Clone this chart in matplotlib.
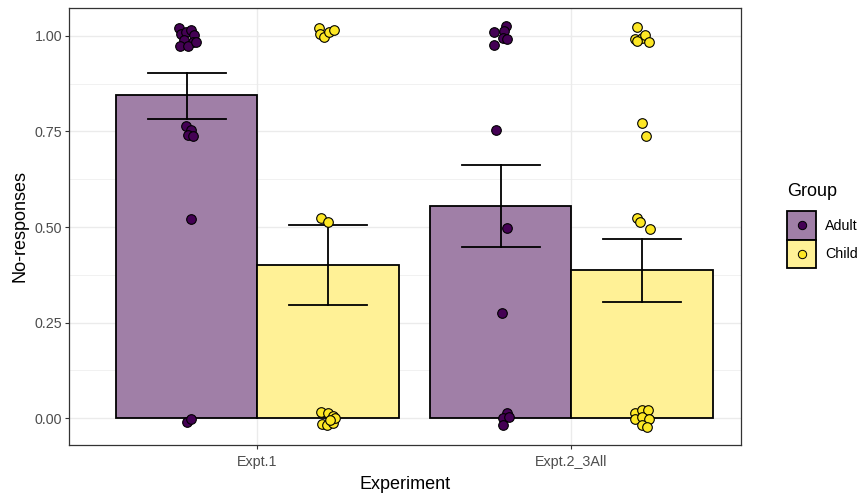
import numpy as np
import matplotlib
matplotlib.use('Agg')
import matplotlib.pyplot as plt
from matplotlib.patches import Rectangle
from matplotlib.lines import Line2D

plt.rcParams['font.family'] = ['Liberation Sans', 'DejaVu Sans']

# data
experiments = ['Expt.1', 'Expt.2_3All']
groups = ['Adult', 'Child']
means = {'Adult': [0.845, 0.556], 'Child': [0.400, 0.387]}
err_lo = {'Adult': [0.783, 0.447], 'Child': [0.295, 0.305]}
err_hi = {'Adult': [0.904, 0.663], 'Child': [0.506, 0.468]}

# individual points: (jitter offset, value) per experiment
adult_e1 = [(-0.025, 1.021), (-0.019, 1.005), (-0.003, 1.010), (0.013, 1.016), (0.022, 1.003),
            (-0.010, 0.990), (0.019, 0.984), (-0.022, 0.974), (0.003, 0.974), (0.029, 0.984),
            (-0.003, 0.764), (0.013, 0.754), (0.003, 0.741), (0.019, 0.738),
            (0.013, 0.521), (0.000, -0.010), (0.013, -0.003)]
child_e1 = [(-0.029, 1.021), (-0.025, 1.005), (-0.013, 0.997), (0.003, 1.010), (0.019, 1.016),
            (-0.022, 0.524), (0.000, 0.513),
            (-0.022, 0.016), (0.000, 0.013), (0.016, 0.005), (-0.019, -0.016),
            (-0.003, -0.018), (0.016, -0.013), (0.022, 0.000), (0.006, -0.005)]
adult_e2 = [(-0.022, 1.010), (0.016, 1.026), (0.010, 1.013), (-0.022, 0.977), (0.006, 0.995),
            (0.019, 0.992), (-0.016, 0.754), (0.019, 0.497), (0.003, 0.275),
            (0.019, 0.013), (0.006, 0.000), (0.025, 0.003), (0.006, -0.018)]
child_e2 = [(-0.016, 1.024), (-0.022, 0.992), (0.000, 0.995), (0.010, 1.003), (-0.016, 0.987),
            (0.022, 0.984), (0.000, 0.772), (0.013, 0.738),
            (-0.016, 0.524), (-0.006, 0.513), (0.025, 0.495),
            (-0.022, 0.013), (0.000, 0.021), (0.019, 0.021), (-0.022, -0.003),
            (0.000, 0.003), (0.022, -0.003), (0.000, -0.018), (0.016, -0.024)]
points = {'Adult': [adult_e1, adult_e2], 'Child': [child_e1, child_e2]}

colors = {'Adult': '#440154', 'Child': '#FDE725'}
fills = {'Adult': '#A07FA7', 'Child': '#FFF196'}


class Key:
    # legend key: filled box with a dot in the middle
    def __init__(self, fill, dot):
        self.fill = fill
        self.dot = dot


class KeyHandler:
    def legend_artist(self, legend, orig_handle, fontsize, handlebox):
        x0, y0 = handlebox.xdescent, handlebox.ydescent
        w, h = handlebox.width, handlebox.height
        tr = handlebox.get_transform()
        rect = Rectangle((-x0, -y0), w, h, facecolor=orig_handle.fill, edgecolor='black',
                         lw=1.3, transform=tr)
        dot = Line2D([w / 2 - x0], [h / 2 - y0], marker='o', ls='none', markersize=6,
                     markerfacecolor=orig_handle.dot, markeredgecolor='black',
                     markeredgewidth=0.7, transform=tr)
        handlebox.add_artist(rect)
        handlebox.add_artist(dot)
        return rect


fig = plt.figure(figsize=(8.67, 4.96), dpi=100)
ax = fig.add_axes([69/867, 51/496, 672/867, 437/496])

width = 0.45
x = np.arange(1, len(experiments) + 1)
for gi, g in enumerate(groups):
    off = (gi - 0.5) * width
    xs = x + off
    ax.bar(xs, means[g], width=width, color=fills[g], edgecolor='black', linewidth=1.3, zorder=2)
    for i in range(len(experiments)):
        ax.plot([xs[i], xs[i]], [err_lo[g][i], err_hi[g][i]], color='black', lw=1.3, zorder=3)
        for yv in (err_lo[g][i], err_hi[g][i]):
            ax.plot([xs[i] - 0.124, xs[i] + 0.124], [yv, yv], color='black', lw=1.3, zorder=3)
        pts = np.array(points[g][i])
        ax.scatter(xs[i] + pts[:, 0], pts[:, 1], s=48, color=colors[g], edgecolor='black',
                   linewidth=0.8, zorder=4)

ax.set_xlim(0.40, 2.54)
ax.set_ylim(-0.07, 1.073)
ax.set_xticks(x)
ax.set_xticklabels(experiments)
ax.set_yticks([0, 0.25, 0.5, 0.75, 1.0])
ax.set_yticklabels(['0.00', '0.25', '0.50', '0.75', '1.00'])
ax.set_yticks([0.125, 0.375, 0.625, 0.875], minor=True)
ax.grid(which='major', color='#EBEBEB', lw=1.0, zorder=0)
ax.grid(which='minor', axis='y', color='#EBEBEB', lw=0.5, zorder=0)
ax.set_axisbelow(True)
ax.tick_params(axis='both', which='major', length=3, width=0.8, color='#333333',
               labelsize=10.3, labelcolor='#4D4D4D', pad=2)
ax.tick_params(axis='x', pad=4)
ax.tick_params(which='minor', length=0)
for s in ax.spines.values():
    s.set_color('#333333')
    s.set_linewidth(0.9)
ax.set_xlabel('Experiment', fontsize=13, labelpad=5)
ax.set_ylabel('No-responses', fontsize=13, labelpad=4)

handles = [Key(fills[g], colors[g]) for g in groups]
leg = fig.legend(handles, groups, title='Group', loc='upper left', bbox_to_anchor=(787/867, 1 - 183/496),
                 frameon=False, handler_map={Key: KeyHandler()},
                 handlelength=2.05, handleheight=2.7, handletextpad=0.6, labelspacing=0.0,
                 fontsize=10.3, title_fontsize=13, borderaxespad=0, borderpad=0)
leg._legend_box.align = 'left'
leg._legend_box.sep = 8

fig.savefig('out.png', dpi=100)
